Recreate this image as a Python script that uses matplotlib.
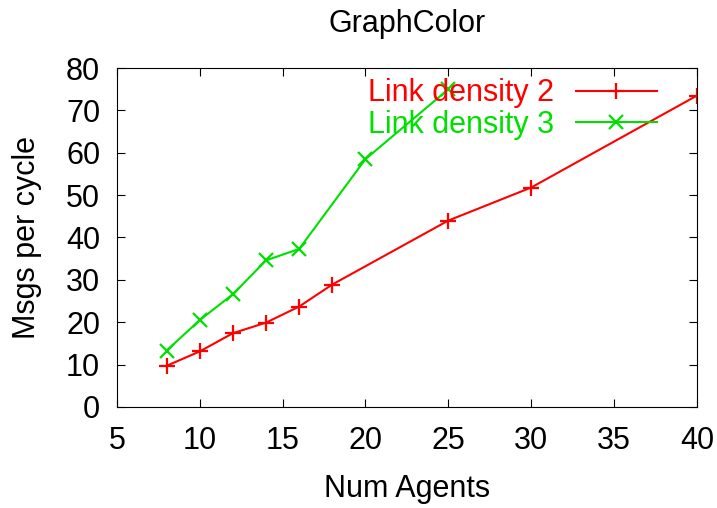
import matplotlib
matplotlib.use('Agg')
import matplotlib.pyplot as plt

plt.rcParams['font.family'] = ['Liberation Sans', 'DejaVu Sans']

# data
agents_d2 = [8, 10, 12, 14, 16, 18, 25, 30, 40]
msgs_d2 = [9.7, 13.1, 17.4, 19.9, 23.7, 28.9, 44.0, 51.8, 73.5]
agents_d3 = [8, 10, 12, 14, 16, 20, 25]
msgs_d3 = [13.3, 20.5, 26.6, 34.6, 37.3, 58.5, 75.0]

fs = 22

fig = plt.figure(figsize=(7.17, 5.08), dpi=100)
ax = fig.add_axes([0.163, 0.199, 0.809, 0.667])

ax.plot(agents_d2, msgs_d2, color='#ff0000', marker='+', markersize=11,
        markeredgewidth=1.6, linewidth=1.5, label='Link density 2')
ax.plot(agents_d3, msgs_d3, color='#00e000', marker='x', markersize=10,
        markeredgewidth=1.6, linewidth=1.5, label='Link density 3')

ax.set_xlim(5, 40)
ax.set_ylim(0, 80)
ax.set_xticks(range(5, 41, 5))
ax.set_yticks(range(0, 81, 10))
ax.tick_params(direction='in', top=True, right=True, labelsize=fs, length=6)
ax.tick_params(axis='x', pad=14)
ax.tick_params(axis='y', pad=12)

ax.set_title('GraphColor', fontsize=fs, pad=26)
ax.set_xlabel('Num Agents', fontsize=fs, labelpad=13)
ax.set_ylabel('Msgs per cycle', fontsize=fs, labelpad=17)

leg = ax.legend(loc='upper right', bbox_to_anchor=(0.952, 1.006), frameon=False,
                markerfirst=False, fontsize=fs, handlelength=2.65,
                labelspacing=0.06, handletextpad=0.7, borderaxespad=0)
for txt, line in zip(leg.get_texts(), leg.get_lines()):
    txt.set_color(line.get_color())

fig.savefig('out.png', dpi=100)
